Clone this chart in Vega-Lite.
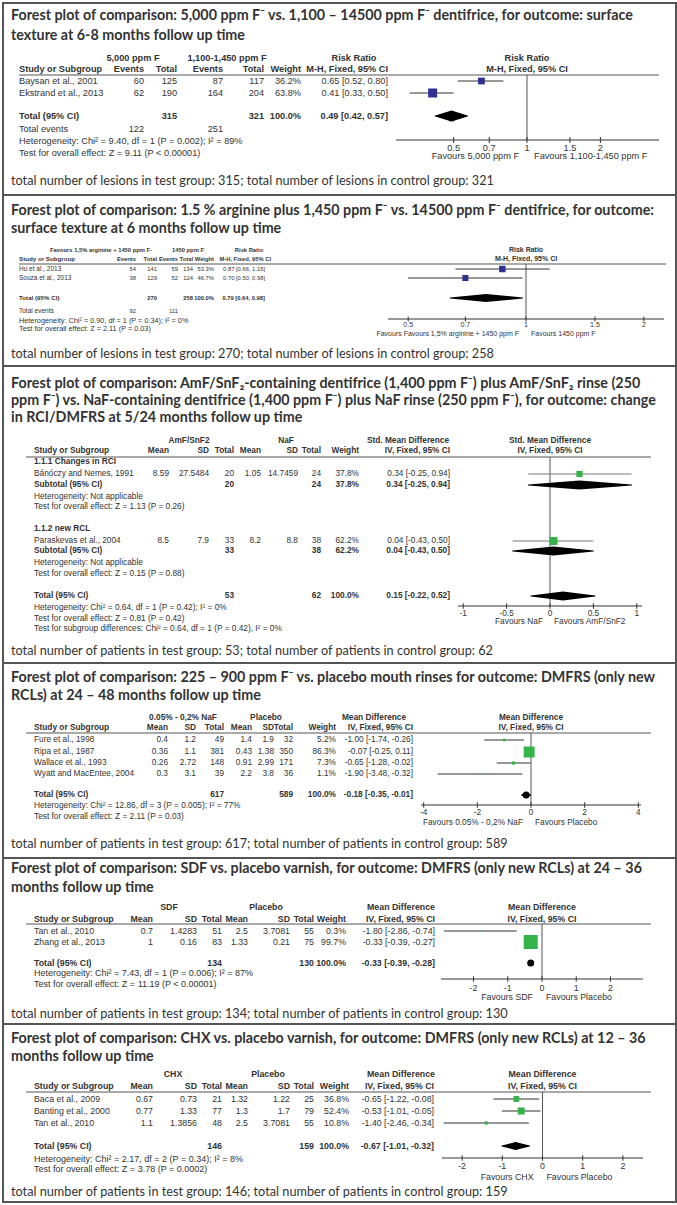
{
"$schema": "https://vega.github.io/schema/vega-lite/v6.json",
"padding": {"left": 2, "top": 2, "right": 2, "bottom": 4},
"autosize": {"type": "pad"},
"bounds": "flush",
"spacing": 0,
"background": "white",
"config": {
  "view": {"stroke": "#555", "strokeWidth": 2},
  "axis": {"disable": true},
  "legend": {"disable": true},
  "concat": {"spacing": 0},
  "text": {"font": "Liberation Sans", "baseline": "middle", "fill": "#333"},
  "style": {
    "ttl": {"font": "Lato", "fontWeight": "bold", "fontSize": 14.3, "align": "left", "fill": "#000"},
    "ftn": {"font": "Lato", "fontSize": 12.7, "align": "left", "fill": "#000"},
    "cl": {"align": "left"},
    "clb": {"align": "left", "fontWeight": "bold"},
    "cr": {"align": "right"},
    "crb": {"align": "right", "fontWeight": "bold"},
    "cc": {"align": "center", "fontWeight": "bold"}
  }
},
"vconcat": [
{
  "width": 673, "height": 192,
  "data": {"values": [
    {"s":"title","r":0,"c":0,"t":"Forest plot of comparison: 5,000 ppm F⁻ vs. 1,100 – 14500 ppm F⁻ dentifrice, for outcome: surface"},
    {"s":"title","r":1,"c":0,"t":"texture at 6-8 months follow up time"},
    {"s":"group","r":2,"c":2,"t":"5,000 ppm F"},
    {"s":"group","r":2,"c":6,"t":"1,100-1,450 ppm F"},
    {"s":"group","r":2,"c":9,"t":"Risk Ratio"},
    {"s":"head","r":3,"c":1,"t":"Study or Subgroup"},
    {"s":"head","r":3,"c":3,"t":"Events"},
    {"s":"head","r":3,"c":4,"t":"Total"},
    {"s":"head","r":3,"c":5,"t":"Events"},
    {"s":"head","r":3,"c":7,"t":"Total"},
    {"s":"head","r":3,"c":8,"t":"Weight"},
    {"s":"head","r":3,"c":10,"t":"M-H, Fixed, 95% CI"},
    {"s":"rule","r":4,"c":1,"c2":11},
    {"s":"study","r":5,"c":1,"t":"Baysan et al., 2001"},
    {"s":"study","r":5,"c":3,"t":"60"},
    {"s":"study","r":5,"c":4,"t":"125"},
    {"s":"study","r":5,"c":5,"t":"87"},
    {"s":"study","r":5,"c":7,"t":"117"},
    {"s":"study","r":5,"c":8,"t":"36.2%"},
    {"s":"study","r":5,"c":10,"t":"0.65 [0.52, 0.80]"},
    {"s":"study","r":6,"c":1,"t":"Ekstrand et al., 2013"},
    {"s":"study","r":6,"c":3,"t":"62"},
    {"s":"study","r":6,"c":4,"t":"190"},
    {"s":"study","r":6,"c":5,"t":"164"},
    {"s":"study","r":6,"c":7,"t":"204"},
    {"s":"study","r":6,"c":8,"t":"63.8%"},
    {"s":"study","r":6,"c":10,"t":"0.41 [0.33, 0.50]"},
    {"s":"total","r":7,"c":1,"t":"Total (95% CI)"},
    {"s":"total","r":7,"c":4,"t":"315"},
    {"s":"total","r":7,"c":7,"t":"321"},
    {"s":"total","r":7,"c":8,"t":"100.0%"},
    {"s":"total","r":7,"c":10,"t":"0.49 [0.42, 0.57]"},
    {"s":"events","r":8,"c":1,"t":"Total events"},
    {"s":"events","r":8,"c":3,"t":"122"},
    {"s":"events","r":8,"c":5,"t":"251"},
    {"s":"note","r":10,"c":1,"t":"Heterogeneity: Chi² = 9.40, df = 1 (P = 0.002); I² = 89%"},
    {"s":"note","r":12,"c":1,"t":"Test for overall effect: Z = 9.11 (P < 0.00001)"},
    {"s":"foot","r":14,"c":0,"t":"total number of lesions in test group: 315; total number of lesions in control group: 321"},
    {"s":"fhead","r":2,"v":1,"t":"Risk Ratio"},
    {"s":"fhead","r":3,"v":1,"t":"M-H, Fixed, 95% CI"},
    {"s":"null","r":4,"r2":9,"v":1},
    {"s":"est","r":5,"v":0.65,"lo":0.52,"hi":0.80,"w":36.2},
    {"s":"est","r":6,"v":0.41,"lo":0.33,"hi":0.50,"w":63.8},
    {"s":"dia","d":"total","r":7,"v":0.42,"pk":0},
    {"s":"dia","d":"total","r":7,"v":0.49,"pk":1},
    {"s":"dia","d":"total","r":7,"v":0.57,"pk":0},
    {"s":"axis","r":9,"v":0.29,"v2":3.48},
    {"s":"tick","r":9,"v":0.5},{"s":"tick","r":9,"v":0.7},{"s":"tick","r":9,"v":1},{"s":"tick","r":9,"v":1.5},{"s":"tick","r":9,"v":2},
    {"s":"tlab","r":11,"v":0.5,"t":"0.5"},{"s":"tlab","r":11,"v":0.7,"t":"0.7"},{"s":"tlab","r":11,"v":1,"t":"1"},{"s":"tlab","r":11,"v":1.5,"t":"1.5"},{"s":"tlab","r":11,"v":2,"t":"2"},
    {"s":"favL","r":13,"v":1,"t":"Favours 5,000 ppm F"},
    {"s":"favR","r":13,"v":1,"t":"Favours 1,100-1,450 ppm F"}
  ]},
  "encoding": {"y": {"field": "r", "type": "quantitative", "scale": {"domain": [0,1,2,3,4,5,6,7,8,9,10,11,12,13,14], "range": [13,33,55,66,72,78,90,113,126,137,138,145,150,153,178], "nice": false, "zero": false}}},
  "resolve": {"scale": {"x": "independent"}},
  "layer": [
    {
      "encoding": {"x": {"field": "c", "type": "quantitative", "scale": {"domain": [0,1,2,3,4,5,6,7,8,9,10,11], "range": [8,16,130,141,174,220,224,261,298,351,385,656], "nice": false, "zero": false}}},
      "layer": [
        {"transform": [{"filter": "datum.s=='title'"}], "mark": {"type": "text", "style": "ttl"}, "encoding": {"text": {"field": "t"}}},
        {"transform": [{"filter": "datum.s=='foot'"}], "mark": {"type": "text", "style": "ftn"}, "encoding": {"text": {"field": "t"}}},
        {"transform": [{"filter": "datum.s=='note'"}], "mark": {"type": "text", "style": "cl", "fontSize": 9.2}, "encoding": {"text": {"field": "t"}}},
        {"transform": [{"filter": "datum.c==1 && (datum.s=='study'||datum.s=='events')"}], "mark": {"type": "text", "style": "cl", "fontSize": 9.2}, "encoding": {"text": {"field": "t"}}},
        {"transform": [{"filter": "datum.c==1 && (datum.s=='head'||datum.s=='sub'||datum.s=='total'||datum.s=='subhead')"}], "mark": {"type": "text", "style": "clb", "fontSize": 9.2}, "encoding": {"text": {"field": "t"}}},
        {"transform": [{"filter": "datum.c>1 && (datum.s=='study'||datum.s=='events')"}], "mark": {"type": "text", "style": "cr", "fontSize": 9.2}, "encoding": {"text": {"field": "t"}}},
        {"transform": [{"filter": "datum.c>1 && (datum.s=='head'||datum.s=='sub'||datum.s=='total')"}], "mark": {"type": "text", "style": "crb", "fontSize": 9.2}, "encoding": {"text": {"field": "t"}}},
        {"transform": [{"filter": "datum.s=='group'"}], "mark": {"type": "text", "style": "cc", "fontSize": 9.2}, "encoding": {"text": {"field": "t"}}},
        {"transform": [{"filter": "datum.s=='rule'"}], "mark": {"type": "rule", "color": "#555", "strokeWidth": 1}, "encoding": {"x2": {"field": "c2"}}}
      ]
    },
    {
      "encoding": {"x": {"field": "v", "type": "quantitative", "scale": {"type": "log", "domain": [0.29, 3.48], "range": [393, 656], "nice": false}}},
      "resolve": {"scale": {"size": "independent"}},
      "layer": [
        {"transform": [{"filter": "datum.s=='fhead'"}], "mark": {"type": "text", "style": "cc", "fontSize": 9.2}, "encoding": {"text": {"field": "t"}}},
        {"transform": [{"filter": "datum.s=='null'"}], "mark": {"type": "rule", "color": "#555", "strokeWidth": 1}, "encoding": {"y2": {"field": "r2"}}},
        {"transform": [{"filter": "datum.s=='est'"}], "mark": {"type": "rule", "color": "#333", "strokeWidth": 1}, "encoding": {"x": {"field": "lo", "type": "quantitative", "scale": {"type": "log", "domain": [0.29, 3.48], "range": [393, 656], "nice": false}}, "x2": {"field": "hi"}}},
        {"transform": [{"filter": "datum.s=='est'"}], "mark": {"type": "square", "color": "#2e3192", "opacity": 1}, "encoding": {"size": {"field": "w", "type": "quantitative", "scale": {"domain": [0, 100], "range": [0, 127]}}}},
        {"transform": [{"filter": "datum.s=='dia'"}], "mark": {"type": "trail", "color": "#000"}, "encoding": {"size": {"field": "pk", "type": "quantitative", "scale": {"domain": [0, 1], "range": [0, 11]}}, "detail": {"field": "d"}}},
        {"transform": [{"filter": "datum.s=='axis'"}], "mark": {"type": "rule", "color": "#333", "strokeWidth": 1}, "encoding": {"x2": {"field": "v2"}}},
        {"transform": [{"filter": "datum.s=='tick'"}], "mark": {"type": "point", "shape": "M0,-1L0,1", "size": 36, "filled": false, "color": "#333", "strokeWidth": 1, "opacity": 1}},
        {"transform": [{"filter": "datum.s=='tlab'"}], "mark": {"type": "text", "align": "center", "fontSize": 9.2}, "encoding": {"text": {"field": "t"}}},
        {"transform": [{"filter": "datum.s=='favL'"}], "mark": {"type": "text", "align": "right", "dx": -8, "fontSize": 9.2}, "encoding": {"text": {"field": "t"}}},
        {"transform": [{"filter": "datum.s=='favR'"}], "mark": {"type": "text", "align": "left", "dx": 7, "fontSize": 9.2}, "encoding": {"text": {"field": "t"}}}
      ]
    }
  ]
},
{
  "width": 673, "height": 171,
  "data": {"values": [
    {"s":"title","r":0,"c":0,"t":"Forest plot of comparison: 1.5 % arginine plus 1,450 ppm F⁻ vs. 14500 ppm F⁻ dentifrice, for outcome:"},
    {"s":"title","r":1,"c":0,"t":"surface texture at 6 months follow up time"},
    {"s":"group","r":2,"c":2,"t":"Favours 1,5% arginine + 1450 ppm F-"},
    {"s":"group","r":2,"c":6,"t":"1450 ppm F"},
    {"s":"group","r":2,"c":9,"t":"Risk Ratio"},
    {"s":"head","r":3,"c":1,"t":"Study or Subgroup"},
    {"s":"head","r":3,"c":3,"t":"Events"},
    {"s":"head","r":3,"c":4,"t":"Total"},
    {"s":"head","r":3,"c":5,"t":"Events"},
    {"s":"head","r":3,"c":7,"t":"Total"},
    {"s":"head","r":3,"c":8,"t":"Weight"},
    {"s":"head","r":3,"c":11,"t":"M-H, Fixed, 95% CI"},
    {"s":"rule","r":4,"c":1,"c2":12},
    {"s":"study","r":5,"c":1,"t":"Hu et al., 2013"},
    {"s":"study","r":5,"c":3,"t":"54"},
    {"s":"study","r":5,"c":4,"t":"141"},
    {"s":"study","r":5,"c":5,"t":"59"},
    {"s":"study","r":5,"c":7,"t":"134"},
    {"s":"study","r":5,"c":8,"t":"53.3%"},
    {"s":"study","r":5,"c":10,"t":"0.87 [0.66, 1.15]"},
    {"s":"study","r":6,"c":1,"t":"Souza et al., 2013"},
    {"s":"study","r":6,"c":3,"t":"38"},
    {"s":"study","r":6,"c":4,"t":"129"},
    {"s":"study","r":6,"c":5,"t":"52"},
    {"s":"study","r":6,"c":7,"t":"124"},
    {"s":"study","r":6,"c":8,"t":"46.7%"},
    {"s":"study","r":6,"c":10,"t":"0.70 [0.50, 0.98]"},
    {"s":"total","r":7,"c":1,"t":"Total (95% CI)"},
    {"s":"total","r":7,"c":4,"t":"270"},
    {"s":"total","r":7,"c":7,"t":"258"},
    {"s":"total","r":7,"c":8,"t":"100.0%"},
    {"s":"total","r":7,"c":10,"t":"0.79 [0.64, 0.98]"},
    {"s":"events","r":8,"c":1,"t":"Total events"},
    {"s":"events","r":8,"c":3,"t":"92"},
    {"s":"events","r":8,"c":5,"t":"111"},
    {"s":"note","r":10,"c":1,"t":"Heterogeneity: Chi² = 0.90, df = 1 (P = 0.34); I² = 0%"},
    {"s":"note","r":12,"c":1,"t":"Test for overall effect: Z = 2.11 (P = 0.03)"},
    {"s":"foot","r":14,"c":0,"t":"total number of lesions in test group: 270; total number of lesions in control  group: 258"},
    {"s":"fhead","r":2,"v":1,"t":"Risk Ratio"},
    {"s":"fhead","r":3,"v":1,"t":"M-H, Fixed, 95% CI"},
    {"s":"null","r":4,"r2":9,"v":1},
    {"s":"est","r":5,"v":0.87,"lo":0.66,"hi":1.15,"w":53.3},
    {"s":"est","r":6,"v":0.70,"lo":0.50,"hi":0.98,"w":46.7},
    {"s":"dia","d":"total","r":7,"v":0.64,"pk":0},
    {"s":"dia","d":"total","r":7,"v":0.79,"pk":1},
    {"s":"dia","d":"total","r":7,"v":0.98,"pk":0},
    {"s":"axis","r":9,"v":0.444,"v2":2.252},
    {"s":"tick","r":9,"v":0.5},{"s":"tick","r":9,"v":0.7},{"s":"tick","r":9,"v":1},{"s":"tick","r":9,"v":1.5},{"s":"tick","r":9,"v":2},
    {"s":"tlab","r":11,"v":0.5,"t":"0.5"},{"s":"tlab","r":11,"v":0.7,"t":"0.7"},{"s":"tlab","r":11,"v":1,"t":"1"},{"s":"tlab","r":11,"v":1.5,"t":"1.5"},{"s":"tlab","r":11,"v":2,"t":"2"},
    {"s":"favL","r":13,"v":1,"t":"Favours Favours 1,5% arginine + 1450 ppm F"},
    {"s":"favR","r":13,"v":1,"t":"Favours 1450 ppm F"}
  ]},
  "encoding": {"y": {"field": "r", "type": "quantitative", "scale": {"domain": [0,1,2,3,4,5,6,7,8,9,10,11,12,13,14], "range": [16,34,55,64,69,74,83,103,116,124,126,130,134,139,159], "nice": false, "zero": false}}},
  "resolve": {"scale": {"x": "independent"}},
  "layer": [
    {
      "encoding": {"x": {"field": "c", "type": "quantitative", "scale": {"domain": [0,1,2,3,4,5,6,7,8,9,10,11,12], "range": [8,16,98,133,154,175,185,190,211,246,262,268,663], "nice": false, "zero": false}}},
      "layer": [
        {"transform": [{"filter": "datum.s=='title'"}], "mark": {"type": "text", "style": "ttl"}, "encoding": {"text": {"field": "t"}}},
        {"transform": [{"filter": "datum.s=='foot'"}], "mark": {"type": "text", "style": "ftn"}, "encoding": {"text": {"field": "t"}}},
        {"transform": [{"filter": "datum.s=='note'"}], "mark": {"type": "text", "style": "cl", "fontSize": 7.3}, "encoding": {"text": {"field": "t"}}},
        {"transform": [{"filter": "datum.c==1 && (datum.s=='study'||datum.s=='events')"}], "mark": {"type": "text", "style": "cl", "fontSize": 6.5}, "encoding": {"text": {"field": "t"}}},
        {"transform": [{"filter": "datum.c==1 && (datum.s=='head'||datum.s=='sub'||datum.s=='total'||datum.s=='subhead')"}], "mark": {"type": "text", "style": "clb", "fontSize": 6.2}, "encoding": {"text": {"field": "t"}}},
        {"transform": [{"filter": "datum.c>1 && (datum.s=='study'||datum.s=='events')"}], "mark": {"type": "text", "style": "cr", "fontSize": 5.8}, "encoding": {"text": {"field": "t"}}},
        {"transform": [{"filter": "datum.c>1 && (datum.s=='head'||datum.s=='sub'||datum.s=='total')"}], "mark": {"type": "text", "style": "crb", "fontSize": 5.8}, "encoding": {"text": {"field": "t"}}},
        {"transform": [{"filter": "datum.s=='group'"}], "mark": {"type": "text", "style": "cc", "fontSize": 5.8}, "encoding": {"text": {"field": "t"}}},
        {"transform": [{"filter": "datum.s=='rule'"}], "mark": {"type": "rule", "color": "#555", "strokeWidth": 1}, "encoding": {"x2": {"field": "c2"}}}
      ]
    },
    {
      "encoding": {"x": {"field": "v", "type": "quantitative", "scale": {"type": "log", "domain": [0.444, 2.252], "range": [385, 661], "nice": false}}},
      "resolve": {"scale": {"size": "independent"}},
      "layer": [
        {"transform": [{"filter": "datum.s=='fhead'"}], "mark": {"type": "text", "style": "cc", "fontSize": 7}, "encoding": {"text": {"field": "t"}}},
        {"transform": [{"filter": "datum.s=='null'"}], "mark": {"type": "rule", "color": "#555", "strokeWidth": 1}, "encoding": {"y2": {"field": "r2"}}},
        {"transform": [{"filter": "datum.s=='est'"}], "mark": {"type": "rule", "color": "#333", "strokeWidth": 1}, "encoding": {"x": {"field": "lo", "type": "quantitative", "scale": {"type": "log", "domain": [0.444, 2.252], "range": [385, 661], "nice": false}}, "x2": {"field": "hi"}}},
        {"transform": [{"filter": "datum.s=='est'"}], "mark": {"type": "square", "color": "#2e3192", "opacity": 1}, "encoding": {"size": {"field": "w", "type": "quantitative", "scale": {"domain": [0, 100], "range": [0, 79]}}}},
        {"transform": [{"filter": "datum.s=='dia'"}], "mark": {"type": "trail", "color": "#000"}, "encoding": {"size": {"field": "pk", "type": "quantitative", "scale": {"domain": [0, 1], "range": [0, 8]}}, "detail": {"field": "d"}}},
        {"transform": [{"filter": "datum.s=='axis'"}], "mark": {"type": "rule", "color": "#333", "strokeWidth": 1}, "encoding": {"x2": {"field": "v2"}}},
        {"transform": [{"filter": "datum.s=='tick'"}], "mark": {"type": "point", "shape": "M0,-1L0,1", "size": 25, "filled": false, "color": "#333", "strokeWidth": 1, "opacity": 1}},
        {"transform": [{"filter": "datum.s=='tlab'"}], "mark": {"type": "text", "align": "center", "fontSize": 7}, "encoding": {"text": {"field": "t"}}},
        {"transform": [{"filter": "datum.s=='favL'"}], "mark": {"type": "text", "align": "right", "dx": -7, "fontSize": 7}, "encoding": {"text": {"field": "t"}}},
        {"transform": [{"filter": "datum.s=='favR'"}], "mark": {"type": "text", "align": "left", "dx": 5, "fontSize": 7}, "encoding": {"text": {"field": "t"}}}
      ]
    }
  ]
},
{
  "width": 673, "height": 297,
  "data": {"values": [
    {"s":"title","r":0,"c":0,"t":"Forest plot of comparison: AmF/SnF₂-containing dentifrice (1,400 ppm F⁻) plus AmF/SnF₂ rinse (250"},
    {"s":"title","r":1,"c":0,"t":"ppm F⁻) vs. NaF-containing dentifrice (1,400 ppm F⁻) plus NaF rinse (250 ppm F⁻), for outcome: change"},
    {"s":"title","r":2,"c":0,"t":"in RCI/DMFRS at 5/24 months follow up time"},
    {"s":"group","r":3,"c":4,"t":"AmF/SnF2"},
    {"s":"group","r":3,"c":8,"t":"NaF"},
    {"s":"group","r":3,"c":12,"t":"Std. Mean Difference"},
    {"s":"head","r":4,"c":2,"t":"Study or Subgroup"},
    {"s":"head","r":4,"c":3,"t":"Mean"},
    {"s":"head","r":4,"c":5,"t":"SD"},
    {"s":"head","r":4,"c":6,"t":"Total"},
    {"s":"head","r":4,"c":7,"t":"Mean"},
    {"s":"head","r":4,"c":9,"t":"SD"},
    {"s":"head","r":4,"c":10,"t":"Total"},
    {"s":"head","r":4,"c":11,"t":"Weight"},
    {"s":"head","r":4,"c":13,"t":"IV, Fixed, 95% CI"},
    {"s":"rule","r":5,"c":1,"c2":14},
    {"s":"subhead","r":6,"c":2,"t":"1.1.1 Changes in RCI"},
    {"s":"study","r":7,"c":2,"t":"Bánóczy and Nemes, 1991"},
    {"s":"study","r":7,"c":3,"t":"8.59"},
    {"s":"study","r":7,"c":5,"t":"27.5484"},
    {"s":"study","r":7,"c":6,"t":"20"},
    {"s":"study","r":7,"c":7,"t":"1.05"},
    {"s":"study","r":7,"c":9,"t":"14.7459"},
    {"s":"study","r":7,"c":10,"t":"24"},
    {"s":"study","r":7,"c":11,"t":"37.8%"},
    {"s":"study","r":7,"c":13,"t":"0.34 [-0.25, 0.94]"},
    {"s":"sub","r":8,"c":2,"t":"Subtotal (95% CI)"},
    {"s":"sub","r":8,"c":6,"t":"20"},
    {"s":"sub","r":8,"c":10,"t":"24"},
    {"s":"sub","r":8,"c":11,"t":"37.8%"},
    {"s":"sub","r":8,"c":13,"t":"0.34 [-0.25, 0.94]"},
    {"s":"note","r":9,"c":2,"t":"Heterogeneity: Not applicable"},
    {"s":"note","r":10,"c":2,"t":"Test for overall effect: Z = 1.13 (P = 0.26)"},
    {"s":"subhead","r":11,"c":2,"t":"1.1.2 new RCL"},
    {"s":"study","r":12,"c":2,"t":"Paraskevas et al., 2004"},
    {"s":"study","r":12,"c":3,"t":"8.5"},
    {"s":"study","r":12,"c":5,"t":"7.9"},
    {"s":"study","r":12,"c":6,"t":"33"},
    {"s":"study","r":12,"c":7,"t":"8.2"},
    {"s":"study","r":12,"c":9,"t":"8.8"},
    {"s":"study","r":12,"c":10,"t":"38"},
    {"s":"study","r":12,"c":11,"t":"62.2%"},
    {"s":"study","r":12,"c":13,"t":"0.04 [-0.43, 0.50]"},
    {"s":"sub","r":13,"c":2,"t":"Subtotal (95% CI)"},
    {"s":"sub","r":13,"c":6,"t":"33"},
    {"s":"sub","r":13,"c":10,"t":"38"},
    {"s":"sub","r":13,"c":11,"t":"62.2%"},
    {"s":"sub","r":13,"c":13,"t":"0.04 [-0.43, 0.50]"},
    {"s":"note","r":14,"c":2,"t":"Heterogeneity: Not applicable"},
    {"s":"note","r":15,"c":2,"t":"Test for overall effect: Z = 0.15 (P = 0.88)"},
    {"s":"total","r":16,"c":2,"t":"Total (95% CI)"},
    {"s":"total","r":16,"c":6,"t":"53"},
    {"s":"total","r":16,"c":10,"t":"62"},
    {"s":"total","r":16,"c":11,"t":"100.0%"},
    {"s":"total","r":16,"c":13,"t":"0.15 [-0.22, 0.52]"},
    {"s":"note","r":18,"c":2,"t":"Heterogeneity: Chi² = 0.64, df = 1 (P = 0.42); I² = 0%"},
    {"s":"note","r":20,"c":2,"t":"Test for overall effect: Z = 0.81 (P = 0.42)"},
    {"s":"note","r":22,"c":2,"t":"Test for subgroup differences: Chi² = 0.64, df = 1 (P = 0.42), I² = 0%"},
    {"s":"foot","r":23,"c":0,"t":"total number of patients in test group: 53; total number of patients in control group: 62"},
    {"s":"fhead","r":3,"v":0,"t":"Std. Mean Difference"},
    {"s":"fhead","r":4,"v":0,"t":"IV, Fixed, 95% CI"},
    {"s":"null","r":5,"r2":17,"v":0},
    {"s":"est","r":7,"v":0.34,"lo":-0.25,"hi":0.94,"w":37.8},
    {"s":"est","r":12,"v":0.04,"lo":-0.43,"hi":0.50,"w":62.2},
    {"s":"dia","d":"sub1","r":8,"v":-0.25,"pk":0},
    {"s":"dia","d":"sub1","r":8,"v":0.34,"pk":1},
    {"s":"dia","d":"sub1","r":8,"v":0.94,"pk":0},
    {"s":"dia","d":"sub2","r":13,"v":-0.43,"pk":0},
    {"s":"dia","d":"sub2","r":13,"v":0.04,"pk":1},
    {"s":"dia","d":"sub2","r":13,"v":0.50,"pk":0},
    {"s":"dia","d":"total","r":16,"v":-0.22,"pk":0},
    {"s":"dia","d":"total","r":16,"v":0.15,"pk":1},
    {"s":"dia","d":"total","r":16,"v":0.52,"pk":0},
    {"s":"axis","r":17,"v":-1.06,"v2":1.06},
    {"s":"tick","r":17,"v":-1},{"s":"tick","r":17,"v":-0.5},{"s":"tick","r":17,"v":0},{"s":"tick","r":17,"v":0.5},{"s":"tick","r":17,"v":1},
    {"s":"tlab","r":19,"v":-1,"t":"-1"},{"s":"tlab","r":19,"v":-0.5,"t":"-0.5"},{"s":"tlab","r":19,"v":0,"t":"0"},{"s":"tlab","r":19,"v":0.5,"t":"0.5"},{"s":"tlab","r":19,"v":1,"t":"1"},
    {"s":"favL","r":21,"v":0,"t":"Favours NaF"},
    {"s":"favR","r":21,"v":0,"t":"Favours AmF/SnF2"}
  ]},
  "encoding": {"y": {"field": "r", "type": "quantitative", "scale": {"domain": [0,1,2,3,4,5,6,7,8,9,10,11,12,13,14,15,16,17,18,19,20,21,22,23], "range": [18,35,52,75,85,91,96,108,119,131,141,163,175,185,197,208,230,240,242,248,253,256,263,285], "nice": false, "zero": false}}},
  "resolve": {"scale": {"x": "independent"}},
  "layer": [
    {
      "encoding": {"x": {"field": "c", "type": "quantitative", "scale": {"domain": [0,1,2,3,4,5,6,7,8,9,10,11,12,13,14], "range": [8,23,31,166,186,206,231,258,283,295,318,356,405,447,648], "nice": false, "zero": false}}},
      "layer": [
        {"transform": [{"filter": "datum.s=='title'"}], "mark": {"type": "text", "style": "ttl"}, "encoding": {"text": {"field": "t"}}},
        {"transform": [{"filter": "datum.s=='foot'"}], "mark": {"type": "text", "style": "ftn"}, "encoding": {"text": {"field": "t"}}},
        {"transform": [{"filter": "datum.s=='note'"}], "mark": {"type": "text", "style": "cl", "fontSize": 8.3}, "encoding": {"text": {"field": "t"}}},
        {"transform": [{"filter": "datum.c==2 && (datum.s=='study'||datum.s=='events')"}], "mark": {"type": "text", "style": "cl", "fontSize": 8.3}, "encoding": {"text": {"field": "t"}}},
        {"transform": [{"filter": "datum.c==2 && (datum.s=='head'||datum.s=='sub'||datum.s=='total'||datum.s=='subhead')"}], "mark": {"type": "text", "style": "clb", "fontSize": 8.3}, "encoding": {"text": {"field": "t"}}},
        {"transform": [{"filter": "datum.c>2 && (datum.s=='study'||datum.s=='events')"}], "mark": {"type": "text", "style": "cr", "fontSize": 8.3}, "encoding": {"text": {"field": "t"}}},
        {"transform": [{"filter": "datum.c>2 && (datum.s=='head'||datum.s=='sub'||datum.s=='total')"}], "mark": {"type": "text", "style": "crb", "fontSize": 8.3}, "encoding": {"text": {"field": "t"}}},
        {"transform": [{"filter": "datum.s=='group'"}], "mark": {"type": "text", "style": "cc", "fontSize": 8.3}, "encoding": {"text": {"field": "t"}}},
        {"transform": [{"filter": "datum.s=='rule'"}], "mark": {"type": "rule", "color": "#555", "strokeWidth": 1}, "encoding": {"x2": {"field": "c2"}}}
      ]
    },
    {
      "encoding": {"x": {"field": "v", "type": "quantitative", "scale": {"domain": [-1.06, 1.06], "range": [455, 639], "nice": false, "zero": false}}},
      "resolve": {"scale": {"size": "independent"}},
      "layer": [
        {"transform": [{"filter": "datum.s=='fhead'"}], "mark": {"type": "text", "style": "cc", "fontSize": 8.3}, "encoding": {"text": {"field": "t"}}},
        {"transform": [{"filter": "datum.s=='null'"}], "mark": {"type": "rule", "color": "#555", "strokeWidth": 1}, "encoding": {"y2": {"field": "r2"}}},
        {"transform": [{"filter": "datum.s=='est'"}], "mark": {"type": "rule", "color": "#777", "strokeWidth": 1}, "encoding": {"x": {"field": "lo", "type": "quantitative", "scale": {"domain": [-1.06, 1.06], "range": [455, 639], "nice": false, "zero": false}}, "x2": {"field": "hi"}}},
        {"transform": [{"filter": "datum.s=='est'"}], "mark": {"type": "square", "color": "#33b34a", "opacity": 1}, "encoding": {"size": {"field": "w", "type": "quantitative", "scale": {"domain": [0, 100], "range": [0, 103]}}}},
        {"transform": [{"filter": "datum.s=='dia'"}], "mark": {"type": "trail", "color": "#000"}, "encoding": {"size": {"field": "pk", "type": "quantitative", "scale": {"domain": [0, 1], "range": [0, 9]}}, "detail": {"field": "d"}}},
        {"transform": [{"filter": "datum.s=='axis'"}], "mark": {"type": "rule", "color": "#333", "strokeWidth": 1}, "encoding": {"x2": {"field": "v2"}}},
        {"transform": [{"filter": "datum.s=='tick'"}], "mark": {"type": "point", "shape": "M0,-1L0,1", "size": 30, "filled": false, "color": "#333", "strokeWidth": 1, "opacity": 1}},
        {"transform": [{"filter": "datum.s=='tlab'"}], "mark": {"type": "text", "align": "center", "fontSize": 8.3}, "encoding": {"text": {"field": "t"}}},
        {"transform": [{"filter": "datum.s=='favL'"}], "mark": {"type": "text", "align": "right", "dx": -7, "fontSize": 8.3}, "encoding": {"text": {"field": "t"}}},
        {"transform": [{"filter": "datum.s=='favR'"}], "mark": {"type": "text", "align": "left", "dx": 4, "fontSize": 8.3}, "encoding": {"text": {"field": "t"}}}
      ]
    }
  ]
},
{
  "width": 673, "height": 195,
  "data": {"values": [
    {"s":"title","r":0,"c":0,"t":"Forest plot of comparison: 225 – 900 ppm F⁻ vs. placebo mouth rinses for outcome: DMFRS (only new"},
    {"s":"title","r":1,"c":0,"t":"RCLs) at 24 – 48 months follow up time"},
    {"s":"group","r":2,"c":4,"t":"0.05% - 0,2% NaF"},
    {"s":"group","r":2,"c":8,"t":"Placebo"},
    {"s":"group","r":2,"c":12,"t":"Mean Difference"},
    {"s":"head","r":3,"c":2,"t":"Study or Subgroup"},
    {"s":"head","r":3,"c":3,"t":"Mean"},
    {"s":"head","r":3,"c":5,"t":"SD"},
    {"s":"head","r":3,"c":6,"t":"Total"},
    {"s":"head","r":3,"c":7,"t":"Mean"},
    {"s":"head","r":3,"c":9,"t":"SD"},
    {"s":"head","r":3,"c":10,"t":"Total"},
    {"s":"head","r":3,"c":11,"t":"Weight"},
    {"s":"head","r":3,"c":13,"t":"IV, Fixed, 95% CI"},
    {"s":"rule","r":4,"c":1,"c2":14},
    {"s":"study","r":5,"c":2,"t":"Fure et al., 1998"},
    {"s":"study","r":5,"c":3,"t":"0.4"},
    {"s":"study","r":5,"c":5,"t":"1.2"},
    {"s":"study","r":5,"c":6,"t":"49"},
    {"s":"study","r":5,"c":7,"t":"1.4"},
    {"s":"study","r":5,"c":9,"t":"1.9"},
    {"s":"study","r":5,"c":10,"t":"32"},
    {"s":"study","r":5,"c":11,"t":"5.2%"},
    {"s":"study","r":5,"c":13,"t":"-1.00 [-1.74, -0.26]"},
    {"s":"study","r":6,"c":2,"t":"Ripa et al., 1987"},
    {"s":"study","r":6,"c":3,"t":"0.36"},
    {"s":"study","r":6,"c":5,"t":"1.1"},
    {"s":"study","r":6,"c":6,"t":"381"},
    {"s":"study","r":6,"c":7,"t":"0.43"},
    {"s":"study","r":6,"c":9,"t":"1.38"},
    {"s":"study","r":6,"c":10,"t":"350"},
    {"s":"study","r":6,"c":11,"t":"86.3%"},
    {"s":"study","r":6,"c":13,"t":"-0.07 [-0.25, 0.11]"},
    {"s":"study","r":7,"c":2,"t":"Wallace et al., 1993"},
    {"s":"study","r":7,"c":3,"t":"0.26"},
    {"s":"study","r":7,"c":5,"t":"2.72"},
    {"s":"study","r":7,"c":6,"t":"148"},
    {"s":"study","r":7,"c":7,"t":"0.91"},
    {"s":"study","r":7,"c":9,"t":"2.99"},
    {"s":"study","r":7,"c":10,"t":"171"},
    {"s":"study","r":7,"c":11,"t":"7.3%"},
    {"s":"study","r":7,"c":13,"t":"-0.65 [-1.28, -0.02]"},
    {"s":"study","r":8,"c":2,"t":"Wyatt and MacEntee, 2004"},
    {"s":"study","r":8,"c":3,"t":"0.3"},
    {"s":"study","r":8,"c":5,"t":"3.1"},
    {"s":"study","r":8,"c":6,"t":"39"},
    {"s":"study","r":8,"c":7,"t":"2.2"},
    {"s":"study","r":8,"c":9,"t":"3.8"},
    {"s":"study","r":8,"c":10,"t":"36"},
    {"s":"study","r":8,"c":11,"t":"1.1%"},
    {"s":"study","r":8,"c":13,"t":"-1.90 [-3.48, -0.32]"},
    {"s":"total","r":9,"c":2,"t":"Total (95% CI)"},
    {"s":"total","r":9,"c":6,"t":"617"},
    {"s":"total","r":9,"c":10,"t":"589"},
    {"s":"total","r":9,"c":11,"t":"100.0%"},
    {"s":"total","r":9,"c":13,"t":"-0.18 [-0.35, -0.01]"},
    {"s":"note","r":11,"c":2,"t":"Heterogeneity: Chi² = 12.86, df = 3 (P = 0.005); I² = 77%"},
    {"s":"note","r":13,"c":2,"t":"Test for overall effect: Z = 2.11 (P = 0.03)"},
    {"s":"foot","r":15,"c":0,"t":"total number of patients in test group: 617; total number of patients in control group: 589"},
    {"s":"fhead","r":2,"v":0,"t":"Mean Difference"},
    {"s":"fhead","r":3,"v":0,"t":"IV, Fixed, 95% CI"},
    {"s":"null","r":4,"r2":10,"v":0},
    {"s":"est","r":5,"v":-1.00,"lo":-1.74,"hi":-0.26,"w":5.2},
    {"s":"est","r":6,"v":-0.07,"lo":-0.25,"hi":0.11,"w":86.3},
    {"s":"est","r":7,"v":-0.65,"lo":-1.28,"hi":-0.02,"w":7.3},
    {"s":"est","r":8,"v":-1.90,"lo":-3.48,"hi":-0.32,"w":1.1},
    {"s":"dia","d":"total","r":9,"v":-0.35,"pk":0},
    {"s":"dia","d":"total","r":9,"v":-0.18,"pk":1},
    {"s":"dia","d":"total","r":9,"v":-0.01,"pk":0},
    {"s":"axis","r":10,"v":-4.1,"v2":4.1},
    {"s":"tick","r":10,"v":-4},{"s":"tick","r":10,"v":-2},{"s":"tick","r":10,"v":0},{"s":"tick","r":10,"v":2},{"s":"tick","r":10,"v":4},
    {"s":"tlab","r":12,"v":-4,"t":"-4"},{"s":"tlab","r":12,"v":-2,"t":"-2"},{"s":"tlab","r":12,"v":0,"t":"0"},{"s":"tlab","r":12,"v":2,"t":"2"},{"s":"tlab","r":12,"v":4,"t":"4"},
    {"s":"favL","r":14,"v":0,"t":"Favours 0.05% - 0,2% NaF"},
    {"s":"favR","r":14,"v":0,"t":"Favours Placebo"}
  ]},
  "encoding": {"y": {"field": "r", "type": "quantitative", "scale": {"domain": [0,1,2,3,4,5,6,7,8,9,10,11,12,13,14,15], "range": [15,33,55,65,70,77,89,100,111,132,142,143,150,154,160,181], "nice": false, "zero": false}}},
  "resolve": {"scale": {"x": "independent"}},
  "layer": [
    {
      "encoding": {"x": {"field": "c", "type": "quantitative", "scale": {"domain": [0,1,2,3,4,5,6,7,8,9,10,11,12,13,14], "range": [8,23,31,165,180,193,221,249,263,271,290,333,371,410,648], "nice": false, "zero": false}}},
      "layer": [
        {"transform": [{"filter": "datum.s=='title'"}], "mark": {"type": "text", "style": "ttl"}, "encoding": {"text": {"field": "t"}}},
        {"transform": [{"filter": "datum.s=='foot'"}], "mark": {"type": "text", "style": "ftn"}, "encoding": {"text": {"field": "t"}}},
        {"transform": [{"filter": "datum.s=='note'"}], "mark": {"type": "text", "style": "cl", "fontSize": 8.3}, "encoding": {"text": {"field": "t"}}},
        {"transform": [{"filter": "datum.c==2 && (datum.s=='study'||datum.s=='events')"}], "mark": {"type": "text", "style": "cl", "fontSize": 8.3}, "encoding": {"text": {"field": "t"}}},
        {"transform": [{"filter": "datum.c==2 && (datum.s=='head'||datum.s=='sub'||datum.s=='total'||datum.s=='subhead')"}], "mark": {"type": "text", "style": "clb", "fontSize": 8.3}, "encoding": {"text": {"field": "t"}}},
        {"transform": [{"filter": "datum.c>2 && (datum.s=='study'||datum.s=='events')"}], "mark": {"type": "text", "style": "cr", "fontSize": 8.3}, "encoding": {"text": {"field": "t"}}},
        {"transform": [{"filter": "datum.c>2 && (datum.s=='head'||datum.s=='sub'||datum.s=='total')"}], "mark": {"type": "text", "style": "crb", "fontSize": 8.3}, "encoding": {"text": {"field": "t"}}},
        {"transform": [{"filter": "datum.s=='group'"}], "mark": {"type": "text", "style": "cc", "fontSize": 8.3}, "encoding": {"text": {"field": "t"}}},
        {"transform": [{"filter": "datum.s=='rule'"}], "mark": {"type": "rule", "color": "#555", "strokeWidth": 1}, "encoding": {"x2": {"field": "c2"}}}
      ]
    },
    {
      "encoding": {"x": {"field": "v", "type": "quantitative", "scale": {"domain": [-4.1, 4.1], "range": [418, 638], "nice": false, "zero": false}}},
      "resolve": {"scale": {"size": "independent"}},
      "layer": [
        {"transform": [{"filter": "datum.s=='fhead'"}], "mark": {"type": "text", "style": "cc", "fontSize": 8.3}, "encoding": {"text": {"field": "t"}}},
        {"transform": [{"filter": "datum.s=='null'"}], "mark": {"type": "rule", "color": "#555", "strokeWidth": 1}, "encoding": {"y2": {"field": "r2"}}},
        {"transform": [{"filter": "datum.s=='est'"}], "mark": {"type": "rule", "color": "#333", "strokeWidth": 1}, "encoding": {"x": {"field": "lo", "type": "quantitative", "scale": {"domain": [-4.1, 4.1], "range": [418, 638], "nice": false, "zero": false}}, "x2": {"field": "hi"}}},
        {"transform": [{"filter": "datum.s=='est'"}], "mark": {"type": "square", "color": "#33b34a", "opacity": 1}, "encoding": {"size": {"field": "w", "type": "quantitative", "scale": {"domain": [0, 100], "range": [0, 140]}}}},
        {"transform": [{"filter": "datum.s=='dia'"}], "mark": {"type": "trail", "color": "#000"}, "encoding": {"size": {"field": "pk", "type": "quantitative", "scale": {"domain": [0, 1], "range": [0, 7]}}, "detail": {"field": "d"}}},
        {"transform": [{"filter": "datum.s=='axis'"}], "mark": {"type": "rule", "color": "#333", "strokeWidth": 1}, "encoding": {"x2": {"field": "v2"}}},
        {"transform": [{"filter": "datum.s=='tick'"}], "mark": {"type": "point", "shape": "M0,-1L0,1", "size": 30, "filled": false, "color": "#333", "strokeWidth": 1, "opacity": 1}},
        {"transform": [{"filter": "datum.s=='tlab'"}], "mark": {"type": "text", "align": "center", "fontSize": 8.3}, "encoding": {"text": {"field": "t"}}},
        {"transform": [{"filter": "datum.s=='favL'"}], "mark": {"type": "text", "align": "right", "dx": -8, "fontSize": 8.3}, "encoding": {"text": {"field": "t"}}},
        {"transform": [{"filter": "datum.s=='favR'"}], "mark": {"type": "text", "align": "left", "dx": 4, "fontSize": 8.3}, "encoding": {"text": {"field": "t"}}}
      ]
    }
  ]
},
{
  "width": 673, "height": 166,
  "data": {"values": [
    {"s":"title","r":0,"c":0,"t":"Forest plot of comparison: SDF vs. placebo varnish, for outcome: DMFRS (only new RCLs) at 24 – 36"},
    {"s":"title","r":1,"c":0,"t":"months follow up time"},
    {"s":"group","r":2,"c":4,"t":"SDF"},
    {"s":"group","r":2,"c":8,"t":"Placebo"},
    {"s":"group","r":2,"c":12,"t":"Mean Difference"},
    {"s":"head","r":3,"c":2,"t":"Study or Subgroup"},
    {"s":"head","r":3,"c":3,"t":"Mean"},
    {"s":"head","r":3,"c":5,"t":"SD"},
    {"s":"head","r":3,"c":6,"t":"Total"},
    {"s":"head","r":3,"c":7,"t":"Mean"},
    {"s":"head","r":3,"c":9,"t":"SD"},
    {"s":"head","r":3,"c":10,"t":"Total"},
    {"s":"head","r":3,"c":11,"t":"Weight"},
    {"s":"head","r":3,"c":13,"t":"IV, Fixed, 95% CI"},
    {"s":"rule","r":4,"c":1,"c2":14},
    {"s":"study","r":5,"c":2,"t":"Tan et al., 2010"},
    {"s":"study","r":5,"c":3,"t":"0.7"},
    {"s":"study","r":5,"c":5,"t":"1.4283"},
    {"s":"study","r":5,"c":6,"t":"51"},
    {"s":"study","r":5,"c":7,"t":"2.5"},
    {"s":"study","r":5,"c":9,"t":"3.7081"},
    {"s":"study","r":5,"c":10,"t":"55"},
    {"s":"study","r":5,"c":11,"t":"0.3%"},
    {"s":"study","r":5,"c":13,"t":"-1.80 [-2.86, -0.74]"},
    {"s":"study","r":6,"c":2,"t":"Zhang et al., 2013"},
    {"s":"study","r":6,"c":3,"t":"1"},
    {"s":"study","r":6,"c":5,"t":"0.16"},
    {"s":"study","r":6,"c":6,"t":"83"},
    {"s":"study","r":6,"c":7,"t":"1.33"},
    {"s":"study","r":6,"c":9,"t":"0.21"},
    {"s":"study","r":6,"c":10,"t":"75"},
    {"s":"study","r":6,"c":11,"t":"99.7%"},
    {"s":"study","r":6,"c":13,"t":"-0.33 [-0.39, -0.27]"},
    {"s":"total","r":7,"c":2,"t":"Total (95% CI)"},
    {"s":"total","r":7,"c":6,"t":"134"},
    {"s":"total","r":7,"c":10,"t":"130"},
    {"s":"total","r":7,"c":11,"t":"100.0%"},
    {"s":"total","r":7,"c":13,"t":"-0.33 [-0.39, -0.28]"},
    {"s":"note","r":8,"c":2,"t":"Heterogeneity: Chi² = 7.43, df = 1 (P = 0.006); I² = 87%"},
    {"s":"note","r":10,"c":2,"t":"Test for overall effect: Z = 11.19 (P < 0.00001)"},
    {"s":"foot","r":13,"c":0,"t":"total number of patients in test group: 134; total number of patients in control group: 130"},
    {"s":"fhead","r":2,"v":0,"t":"Mean Difference"},
    {"s":"fhead","r":3,"v":0,"t":"IV, Fixed, 95% CI"},
    {"s":"null","r":4,"r2":9,"v":0},
    {"s":"est","r":5,"v":-1.80,"lo":-2.86,"hi":-0.74,"w":0.3},
    {"s":"est","r":6,"v":-0.33,"lo":-0.39,"hi":-0.27,"w":99.7},
    {"s":"dia","d":"total","r":7,"v":-0.39,"pk":0},
    {"s":"dia","d":"total","r":7,"v":-0.33,"pk":1},
    {"s":"dia","d":"total","r":7,"v":-0.28,"pk":0},
    {"s":"axis","r":9,"v":-2.95,"v2":2.95},
    {"s":"tick","r":9,"v":-2},{"s":"tick","r":9,"v":-1},{"s":"tick","r":9,"v":0},{"s":"tick","r":9,"v":1},{"s":"tick","r":9,"v":2},
    {"s":"tlab","r":11,"v":-2,"t":"-2"},{"s":"tlab","r":11,"v":-1,"t":"-1"},{"s":"tlab","r":11,"v":0,"t":"0"},{"s":"tlab","r":11,"v":1,"t":"1"},{"s":"tlab","r":11,"v":2,"t":"2"},
    {"s":"favL","r":12,"v":0,"t":"Favours SDF"},
    {"s":"favR","r":12,"v":0,"t":"Favours Placebo"}
  ]},
  "encoding": {"y": {"field": "r", "type": "quantitative", "scale": {"domain": [0,1,2,3,4,5,6,7,8,9,10,11,12,13], "range": [11,30,49,61,66,73,84,105,115,121,126,130,139,156], "nice": false, "zero": false}}},
  "resolve": {"scale": {"x": "independent"}},
  "layer": [
    {
      "encoding": {"x": {"field": "c", "type": "quantitative", "scale": {"domain": [0,1,2,3,4,5,6,7,8,9,10,11,12,13,14], "range": [8,23,31,150,166,194,219,245,263,287,311,343,398,432,648], "nice": false, "zero": false}}},
      "layer": [
        {"transform": [{"filter": "datum.s=='title'"}], "mark": {"type": "text", "style": "ttl"}, "encoding": {"text": {"field": "t"}}},
        {"transform": [{"filter": "datum.s=='foot'"}], "mark": {"type": "text", "style": "ftn"}, "encoding": {"text": {"field": "t"}}},
        {"transform": [{"filter": "datum.s=='note'"}], "mark": {"type": "text", "style": "cl", "fontSize": 9}, "encoding": {"text": {"field": "t"}}},
        {"transform": [{"filter": "datum.c==2 && (datum.s=='study'||datum.s=='events')"}], "mark": {"type": "text", "style": "cl", "fontSize": 8.8}, "encoding": {"text": {"field": "t"}}},
        {"transform": [{"filter": "datum.c==2 && (datum.s=='head'||datum.s=='sub'||datum.s=='total'||datum.s=='subhead')"}], "mark": {"type": "text", "style": "clb", "fontSize": 8.8}, "encoding": {"text": {"field": "t"}}},
        {"transform": [{"filter": "datum.c>2 && (datum.s=='study'||datum.s=='events')"}], "mark": {"type": "text", "style": "cr", "fontSize": 8.8}, "encoding": {"text": {"field": "t"}}},
        {"transform": [{"filter": "datum.c>2 && (datum.s=='head'||datum.s=='sub'||datum.s=='total')"}], "mark": {"type": "text", "style": "crb", "fontSize": 8.8}, "encoding": {"text": {"field": "t"}}},
        {"transform": [{"filter": "datum.s=='group'"}], "mark": {"type": "text", "style": "cc", "fontSize": 8.8}, "encoding": {"text": {"field": "t"}}},
        {"transform": [{"filter": "datum.s=='rule'"}], "mark": {"type": "rule", "color": "#555", "strokeWidth": 1}, "encoding": {"x2": {"field": "c2"}}}
      ]
    },
    {
      "encoding": {"x": {"field": "v", "type": "quantitative", "scale": {"domain": [-2.95, 2.95], "range": [438, 640], "nice": false, "zero": false}}},
      "resolve": {"scale": {"size": "independent"}},
      "layer": [
        {"transform": [{"filter": "datum.s=='fhead'"}], "mark": {"type": "text", "style": "cc", "fontSize": 8.8}, "encoding": {"text": {"field": "t"}}},
        {"transform": [{"filter": "datum.s=='null'"}], "mark": {"type": "rule", "color": "#555", "strokeWidth": 1}, "encoding": {"y2": {"field": "r2"}}},
        {"transform": [{"filter": "datum.s=='est'"}], "mark": {"type": "rule", "color": "#333", "strokeWidth": 1}, "encoding": {"x": {"field": "lo", "type": "quantitative", "scale": {"domain": [-2.95, 2.95], "range": [438, 640], "nice": false, "zero": false}}, "x2": {"field": "hi"}}},
        {"transform": [{"filter": "datum.s=='est'"}], "mark": {"type": "square", "color": "#33b34a", "opacity": 1}, "encoding": {"size": {"field": "w", "type": "quantitative", "scale": {"domain": [0, 100], "range": [0, 197]}}}},
        {"transform": [{"filter": "datum.s=='dia'"}], "mark": {"type": "trail", "color": "#000"}, "encoding": {"size": {"field": "pk", "type": "quantitative", "scale": {"domain": [0, 1], "range": [0, 7]}}, "detail": {"field": "d"}}},
        {"transform": [{"filter": "datum.s=='axis'"}], "mark": {"type": "rule", "color": "#333", "strokeWidth": 1}, "encoding": {"x2": {"field": "v2"}}},
        {"transform": [{"filter": "datum.s=='tick'"}], "mark": {"type": "point", "shape": "M0,-1L0,1", "size": 30, "filled": false, "color": "#333", "strokeWidth": 1, "opacity": 1}},
        {"transform": [{"filter": "datum.s=='tlab'"}], "mark": {"type": "text", "align": "center", "fontSize": 8.8}, "encoding": {"text": {"field": "t"}}},
        {"transform": [{"filter": "datum.s=='favL'"}], "mark": {"type": "text", "align": "right", "dx": -9, "fontSize": 8.8}, "encoding": {"text": {"field": "t"}}},
        {"transform": [{"filter": "datum.s=='favR'"}], "mark": {"type": "text", "align": "left", "dx": 4, "fontSize": 8.8}, "encoding": {"text": {"field": "t"}}}
      ]
    }
  ]
},
{
  "width": 673, "height": 178,
  "data": {"values": [
    {"s":"title","r":0,"c":0,"t":"Forest plot of comparison: CHX vs. placebo varnish, for outcome: DMFRS (only new RCLs) at 12 – 36"},
    {"s":"title","r":1,"c":0,"t":"months follow up time"},
    {"s":"group","r":2,"c":4,"t":"CHX"},
    {"s":"group","r":2,"c":8,"t":"Placebo"},
    {"s":"group","r":2,"c":12,"t":"Mean Difference"},
    {"s":"head","r":3,"c":2,"t":"Study or Subgroup"},
    {"s":"head","r":3,"c":3,"t":"Mean"},
    {"s":"head","r":3,"c":5,"t":"SD"},
    {"s":"head","r":3,"c":6,"t":"Total"},
    {"s":"head","r":3,"c":7,"t":"Mean"},
    {"s":"head","r":3,"c":9,"t":"SD"},
    {"s":"head","r":3,"c":10,"t":"Total"},
    {"s":"head","r":3,"c":11,"t":"Weight"},
    {"s":"head","r":3,"c":13,"t":"IV, Fixed, 95% CI"},
    {"s":"rule","r":4,"c":1,"c2":14},
    {"s":"study","r":5,"c":2,"t":"Baca et al., 2009"},
    {"s":"study","r":5,"c":3,"t":"0.67"},
    {"s":"study","r":5,"c":5,"t":"0.73"},
    {"s":"study","r":5,"c":6,"t":"21"},
    {"s":"study","r":5,"c":7,"t":"1.32"},
    {"s":"study","r":5,"c":9,"t":"1.22"},
    {"s":"study","r":5,"c":10,"t":"25"},
    {"s":"study","r":5,"c":11,"t":"36.8%"},
    {"s":"study","r":5,"c":13,"t":"-0.65 [-1.22, -0.08]"},
    {"s":"study","r":6,"c":2,"t":"Banting et al., 2000"},
    {"s":"study","r":6,"c":3,"t":"0.77"},
    {"s":"study","r":6,"c":5,"t":"1.33"},
    {"s":"study","r":6,"c":6,"t":"77"},
    {"s":"study","r":6,"c":7,"t":"1.3"},
    {"s":"study","r":6,"c":9,"t":"1.7"},
    {"s":"study","r":6,"c":10,"t":"79"},
    {"s":"study","r":6,"c":11,"t":"52.4%"},
    {"s":"study","r":6,"c":13,"t":"-0.53 [-1.01, -0.05]"},
    {"s":"study","r":7,"c":2,"t":"Tan et al., 2010"},
    {"s":"study","r":7,"c":3,"t":"1.1"},
    {"s":"study","r":7,"c":5,"t":"1.3856"},
    {"s":"study","r":7,"c":6,"t":"48"},
    {"s":"study","r":7,"c":7,"t":"2.5"},
    {"s":"study","r":7,"c":9,"t":"3.7081"},
    {"s":"study","r":7,"c":10,"t":"55"},
    {"s":"study","r":7,"c":11,"t":"10.8%"},
    {"s":"study","r":7,"c":13,"t":"-1.40 [-2.46, -0.34]"},
    {"s":"total","r":8,"c":2,"t":"Total (95% CI)"},
    {"s":"total","r":8,"c":6,"t":"146"},
    {"s":"total","r":8,"c":10,"t":"159"},
    {"s":"total","r":8,"c":11,"t":"100.0%"},
    {"s":"total","r":8,"c":13,"t":"-0.67 [-1.01, -0.32]"},
    {"s":"note","r":10,"c":2,"t":"Heterogeneity: Chi² = 2.17, df = 2 (P = 0.34); I² = 8%"},
    {"s":"note","r":12,"c":2,"t":"Test for overall effect: Z = 3.78 (P = 0.0002)"},
    {"s":"foot","r":14,"c":0,"t":"total number of patients in test group: 146; total number of patients in control group: 159"},
    {"s":"fhead","r":2,"v":0,"t":"Mean Difference"},
    {"s":"fhead","r":3,"v":0,"t":"IV, Fixed, 95% CI"},
    {"s":"null","r":4,"r2":9,"v":0},
    {"s":"est","r":5,"v":-0.65,"lo":-1.22,"hi":-0.08,"w":36.8},
    {"s":"est","r":6,"v":-0.53,"lo":-1.01,"hi":-0.05,"w":52.4},
    {"s":"est","r":7,"v":-1.40,"lo":-2.46,"hi":-0.34,"w":10.8},
    {"s":"dia","d":"total","r":8,"v":-1.01,"pk":0},
    {"s":"dia","d":"total","r":8,"v":-0.67,"pk":1},
    {"s":"dia","d":"total","r":8,"v":-0.32,"pk":0},
    {"s":"axis","r":9,"v":-2.5,"v2":2.5},
    {"s":"tick","r":9,"v":-2},{"s":"tick","r":9,"v":-1},{"s":"tick","r":9,"v":0},{"s":"tick","r":9,"v":1},{"s":"tick","r":9,"v":2},
    {"s":"tlab","r":11,"v":-2,"t":"-2"},{"s":"tlab","r":11,"v":-1,"t":"-1"},{"s":"tlab","r":11,"v":0,"t":"0"},{"s":"tlab","r":11,"v":1,"t":"1"},{"s":"tlab","r":11,"v":2,"t":"2"},
    {"s":"favL","r":13,"v":0,"t":"Favours CHX"},
    {"s":"favR","r":13,"v":0,"t":"Favours Placebo"}
  ]},
  "encoding": {"y": {"field": "r", "type": "quantitative", "scale": {"domain": [0,1,2,3,4,5,6,7,8,9,10,11,12,13,14], "range": [15,33,50,62,68,75,87,99,122,134,135,142,145,153,168], "nice": false, "zero": false}}},
  "resolve": {"scale": {"x": "independent"}},
  "layer": [
    {
      "encoding": {"x": {"field": "c", "type": "quantitative", "scale": {"domain": [0,1,2,3,4,5,6,7,8,9,10,11,12,13,14], "range": [8,23,31,150,170,194,219,245,265,287,311,346,398,431,648], "nice": false, "zero": false}}},
      "layer": [
        {"transform": [{"filter": "datum.s=='title'"}], "mark": {"type": "text", "style": "ttl"}, "encoding": {"text": {"field": "t"}}},
        {"transform": [{"filter": "datum.s=='foot'"}], "mark": {"type": "text", "style": "ftn"}, "encoding": {"text": {"field": "t"}}},
        {"transform": [{"filter": "datum.s=='note'"}], "mark": {"type": "text", "style": "cl", "fontSize": 9}, "encoding": {"text": {"field": "t"}}},
        {"transform": [{"filter": "datum.c==2 && (datum.s=='study'||datum.s=='events')"}], "mark": {"type": "text", "style": "cl", "fontSize": 8.8}, "encoding": {"text": {"field": "t"}}},
        {"transform": [{"filter": "datum.c==2 && (datum.s=='head'||datum.s=='sub'||datum.s=='total'||datum.s=='subhead')"}], "mark": {"type": "text", "style": "clb", "fontSize": 8.8}, "encoding": {"text": {"field": "t"}}},
        {"transform": [{"filter": "datum.c>2 && (datum.s=='study'||datum.s=='events')"}], "mark": {"type": "text", "style": "cr", "fontSize": 8.8}, "encoding": {"text": {"field": "t"}}},
        {"transform": [{"filter": "datum.c>2 && (datum.s=='head'||datum.s=='sub'||datum.s=='total')"}], "mark": {"type": "text", "style": "crb", "fontSize": 8.8}, "encoding": {"text": {"field": "t"}}},
        {"transform": [{"filter": "datum.s=='group'"}], "mark": {"type": "text", "style": "cc", "fontSize": 8.8}, "encoding": {"text": {"field": "t"}}},
        {"transform": [{"filter": "datum.s=='rule'"}], "mark": {"type": "rule", "color": "#555", "strokeWidth": 1}, "encoding": {"x2": {"field": "c2"}}}
      ]
    },
    {
      "encoding": {"x": {"field": "v", "type": "quantitative", "scale": {"domain": [-2.5, 2.5], "range": [439, 640], "nice": false, "zero": false}}},
      "resolve": {"scale": {"size": "independent"}},
      "layer": [
        {"transform": [{"filter": "datum.s=='fhead'"}], "mark": {"type": "text", "style": "cc", "fontSize": 8.8}, "encoding": {"text": {"field": "t"}}},
        {"transform": [{"filter": "datum.s=='null'"}], "mark": {"type": "rule", "color": "#555", "strokeWidth": 1}, "encoding": {"y2": {"field": "r2"}}},
        {"transform": [{"filter": "datum.s=='est'"}], "mark": {"type": "rule", "color": "#333", "strokeWidth": 1}, "encoding": {"x": {"field": "lo", "type": "quantitative", "scale": {"domain": [-2.5, 2.5], "range": [439, 640], "nice": false, "zero": false}}, "x2": {"field": "hi"}}},
        {"transform": [{"filter": "datum.s=='est'"}], "mark": {"type": "square", "color": "#33b34a", "opacity": 1}, "encoding": {"size": {"field": "w", "type": "quantitative", "scale": {"domain": [0, 100], "range": [0, 94]}}}},
        {"transform": [{"filter": "datum.s=='dia'"}], "mark": {"type": "trail", "color": "#000"}, "encoding": {"size": {"field": "pk", "type": "quantitative", "scale": {"domain": [0, 1], "range": [0, 8]}}, "detail": {"field": "d"}}},
        {"transform": [{"filter": "datum.s=='axis'"}], "mark": {"type": "rule", "color": "#333", "strokeWidth": 1}, "encoding": {"x2": {"field": "v2"}}},
        {"transform": [{"filter": "datum.s=='tick'"}], "mark": {"type": "point", "shape": "M0,-1L0,1", "size": 30, "filled": false, "color": "#333", "strokeWidth": 1, "opacity": 1}},
        {"transform": [{"filter": "datum.s=='tlab'"}], "mark": {"type": "text", "align": "center", "fontSize": 8.8}, "encoding": {"text": {"field": "t"}}},
        {"transform": [{"filter": "datum.s=='favL'"}], "mark": {"type": "text", "align": "right", "dx": -9, "fontSize": 8.8}, "encoding": {"text": {"field": "t"}}},
        {"transform": [{"filter": "datum.s=='favR'"}], "mark": {"type": "text", "align": "left", "dx": 4, "fontSize": 8.8}, "encoding": {"text": {"field": "t"}}}
      ]
    }
  ]
}
]
}
